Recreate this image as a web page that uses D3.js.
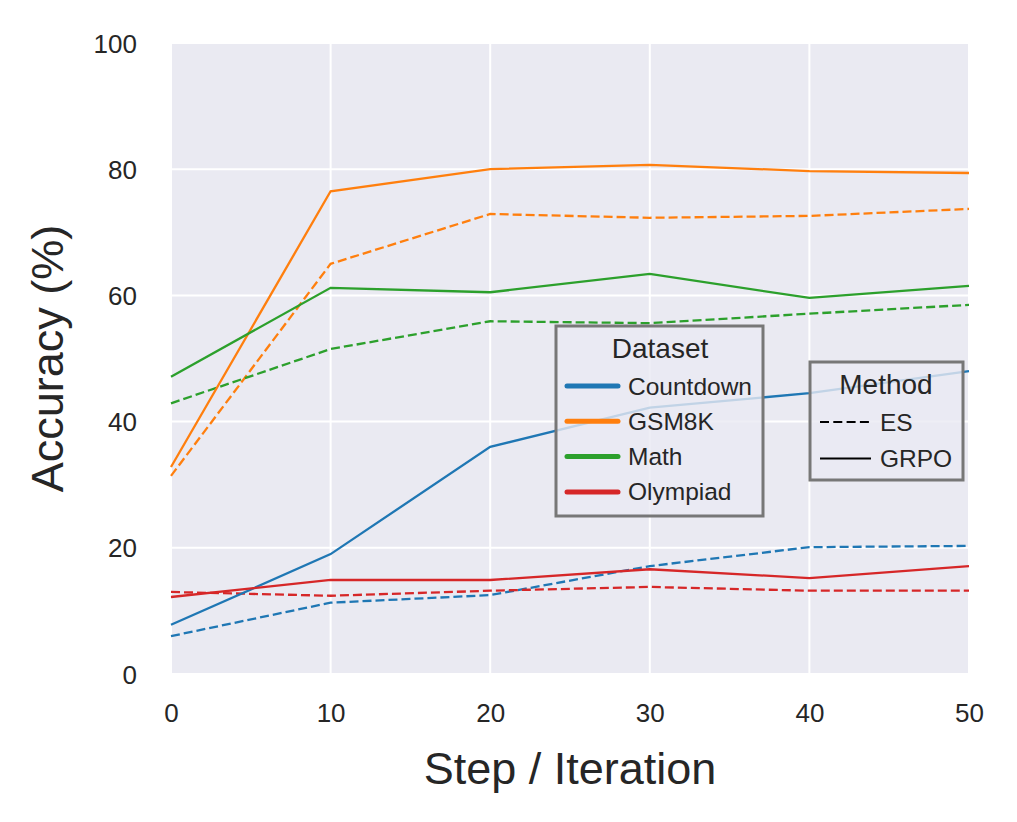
<!DOCTYPE html>
<html>
<head>
<meta charset="utf-8">
<script src="https://cdn.jsdelivr.net/npm/d3@7"></script>
<style>
  body { margin: 0; background: #fff; }
  svg { font-family: "Liberation Sans", Arial, sans-serif; }
</style>
</head>
<body>
<svg id="chart" width="1017" height="822"></svg>
<script>
var steps = [0, 10, 20, 30, 40, 50]
var datasets = ["Countdown", "GSM8K", "Math", "Olympiad"]
var methods = ["ES", "GRPO"]
var colors = ["#1f77b4", "#ff7f0e", "#2ca02c", "#d62728"]

var countdownGRPO = [7.8, 19.0, 36.0, 42.2, 44.5, 48.0]
var countdownES = [6.0, 11.3, 12.5, 17.1, 20.1, 20.3]
var gsm8kGRPO = [32.8, 76.5, 80.0, 80.7, 79.7, 79.4]
var gsm8kES = [31.4, 65.0, 72.9, 72.3, 72.6, 73.7]
var mathGRPO = [47.1, 61.2, 60.5, 63.4, 59.6, 61.5]
var mathES = [42.9, 51.5, 55.9, 55.6, 57.1, 58.5]
var olympiadGRPO = [12.2, 14.9, 14.9, 16.6, 15.2, 17.1]
var olympiadES = [13.0, 12.4, 13.2, 13.8, 13.2, 13.2]

var xTicks = [0, 10, 20, 30, 40, 50]
var yTicks = [0, 20, 40, 60, 80, 100]

var series = [
    {ds: 0, method: "ES", values: countdownES},
    {ds: 1, method: "ES", values: gsm8kES},
    {ds: 2, method: "ES", values: mathES},
    {ds: 3, method: "ES", values: olympiadES},
    {ds: 0, method: "GRPO", values: countdownGRPO},
    {ds: 1, method: "GRPO", values: gsm8kGRPO},
    {ds: 2, method: "GRPO", values: mathGRPO},
    {ds: 3, method: "GRPO", values: olympiadGRPO}
]

var margin = {top: 43, right: 48, bottom: 148, left: 171},
    w = 1017 - margin.left - margin.right,
    h = 822 - margin.top - margin.bottom;

var svg = d3.select("#chart")
var g = svg.append("g").attr("transform", `translate(${margin.left}, ${margin.top})`)

var x = d3.scaleLinear().domain([0, 50]).range([0, w])
var y = d3.scaleLinear().domain([0, 100]).range([h, 0])

g.append("rect").attr("width", w).attr("height", h).attr("fill", "#eaeaf2")

// grid
g.selectAll(".gx").data(xTicks).join("line")
    .attr("x1", d => x(d)).attr("x2", d => x(d))
    .attr("y1", 0).attr("y2", h)
    .attr("stroke", "#fff").attr("stroke-width", 2)
g.selectAll(".gy").data(yTicks).join("line")
    .attr("y1", d => y(d)).attr("y2", d => y(d))
    .attr("x1", 0).attr("x2", w)
    .attr("stroke", "#fff").attr("stroke-width", 2)

// axes
var xAxis = d3.axisBottom(x).tickValues(xTicks).tickSize(0).tickPadding(30)
var yAxis = d3.axisLeft(y).tickValues(yTicks).tickSize(0).tickPadding(34)
var xg = g.append("g").attr("transform", `translate(0, ${h})`).call(xAxis)
var yg = g.append("g").call(yAxis)
xg.select(".domain").remove()
yg.select(".domain").remove()
xg.selectAll("text").attr("font-size", "26px").attr("fill", "#262626").attr("font-family", "Liberation Sans, Arial, sans-serif")
yg.selectAll("text").attr("font-size", "26px").attr("fill", "#262626").attr("font-family", "Liberation Sans, Arial, sans-serif")
    .attr("dy", "0.35em")

// lines
var line = d3.line().x((d, i) => x(steps[i])).y(d => y(d))
g.selectAll(".series").data(series).join("path")
    .attr("d", d => line(d.values))
    .attr("fill", "none")
    .attr("stroke", d => colors[d.ds])
    .attr("stroke-width", 2.3)
    .attr("stroke-dasharray", d => d.method === "ES" ? "9,4" : null)

// axis labels
svg.append("text")
    .attr("x", margin.left + w / 2)
    .attr("y", 784)
    .attr("text-anchor", "middle")
    .attr("font-size", "45px")
    .attr("fill", "#262626")
    .text("Step / Iteration")

svg.append("text")
    .attr("transform", `translate(63, ${margin.top + h / 2}) rotate(-90)`)
    .attr("text-anchor", "middle")
    .attr("font-size", "45px")
    .attr("fill", "#262626")
    .text("Accuracy (%)")

// Dataset legend
var leg1 = svg.append("g").attr("transform", "translate(556, 326)")
leg1.append("rect").attr("width", 207).attr("height", 190)
    .attr("fill", "#eaeaf2").attr("fill-opacity", 0.8)
    .attr("stroke", "#777").attr("stroke-width", 3)
leg1.append("text").attr("x", 104).attr("y", 32).attr("text-anchor", "middle")
    .attr("font-size", "28px").attr("fill", "#262626").text("Dataset")
datasets.forEach(function(name, i){
    var yy = 60 + i * 35.3
    leg1.append("line").attr("x1", 11).attr("x2", 62).attr("y1", yy).attr("y2", yy)
        .attr("stroke", colors[i]).attr("stroke-width", 5).attr("stroke-linecap", "round")
    leg1.append("text").attr("x", 72).attr("y", yy).attr("dy", "0.35em")
        .attr("font-size", "24.5px").attr("fill", "#262626").text(name)
})

// Method legend
var leg2 = svg.append("g").attr("transform", "translate(810, 362)")
leg2.append("rect").attr("width", 153).attr("height", 118)
    .attr("fill", "#eaeaf2").attr("fill-opacity", 0.8)
    .attr("stroke", "#777").attr("stroke-width", 3)
leg2.append("text").attr("x", 76).attr("y", 32).attr("text-anchor", "middle")
    .attr("font-size", "28px").attr("fill", "#262626").text("Method")
methods.forEach(function(name, i){
    var yy = 60 + i * 36.5
    leg2.append("line").attr("x1", 10).attr("x2", 61).attr("y1", yy).attr("y2", yy)
        .attr("stroke", "#000").attr("stroke-width", 2)
        .attr("stroke-dasharray", name === "ES" ? "9,4.3" : null)
    leg2.append("text").attr("x", 70).attr("y", yy).attr("dy", "0.35em")
        .attr("font-size", "24.5px").attr("fill", "#262626").text(name)
})
</script>
</body>
</html>
